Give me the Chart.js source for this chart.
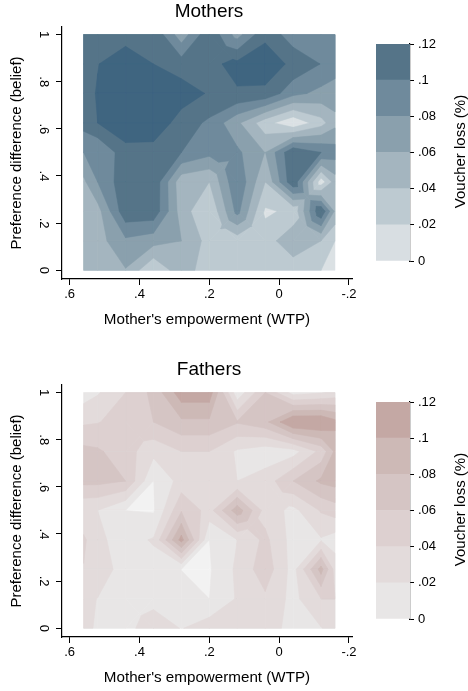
<!DOCTYPE html>
<html>
<head>
<meta charset="utf-8">
<title>Voucher loss contours</title>
<script src="https://cdn.jsdelivr.net/npm/chart.js@4"></script>
<style>
  html, body { margin: 0; padding: 0; background: #fff; }
  body { position: relative; width: 468px; height: 691px; overflow: hidden; }
  canvas { position: absolute; }
</style>
</head>
<body>
<canvas id="mothersPlot" width="372" height="329" style="left:0;top:0"></canvas>
<canvas id="mothersBar" width="128" height="245" style="left:340px;top:30px"></canvas>
<canvas id="fathersPlot" width="372" height="329" style="left:0;top:358px"></canvas>
<canvas id="fathersBar" width="128" height="245" style="left:340px;top:388px"></canvas>
<script>
// grid of the contour surface
const xGrid = [.56, .52, .44, .36, .28, .2, .12, .04, -.04, -.12, -.16];
const yGrid = [1, .875, .75, .625, .5, .375, .25, .125, 0];

// voucher loss, one row per yGrid value, one column per xGrid value
const mothersLoss = [
  [.104, .106, .108, .117, .068, .116, .072, .116, .088, .09, .088],
  [.11, .119, .138, .12, .11, .115, .126, .13, .116, .0994, .09],
  [.11, .122, .14, .138, .13, .118, .118, .116, .086, .074, .07],
  [.108, .12, .136, .134, .111, .096, .064, .028, .003, .032, .054],
  [.08, .08, .112, .112, .1, .086, .084, .0595, .118, .1, .09],
  [.056, .08, .114, .116, .046, .04, .098, .04, .116, .008, .05],
  [.046, .052, .114, .114, .05, .0205, .0866, .017, .024, .118, .056],
  [.05, .052, .076, .068, .06, .032, .0286, .029, .0566, .04, .02],
  [.046, .048, .0588, .02, .054, .025, .028, .028, .0264, .02, .004]
];
const fathersLoss = [
  [.01, .018, .04, .066, .112, .112, .006, .06, .012, .018, .026],
  [.037, .039, .048, .06, .076, .076, .062, .074, .123, .122, .1068],
  [.066, .063, .049, .026, .04, .04, .017, .008, .012, .046, .084],
  [.066, .066, .06, -.0002, .028, .03, .02, .029, .06, .084, .088],
  [.022, .02, 0, -.002, .058, .032, .092, .032, .014, .042, .05],
  [.044, .024, .012, .022, .108, 0, .02, .045, .012, .018, .01],
  [.039, .03, .012, .012, -.0004, -.002, .024, .052, .012, .088, .032],
  [.024, .0196, .014, .012, .01, 0, .022, .036, .014, .04, .04],
  [.022, .019, .012, .034, .019, .032, .034, .034, .01, .019, .03]
];

// contour levels and the colour painted from each level upward
const mothersLevels = [0, .02, .04, .06, .08, .1, .12];
const mothersColors = ['#dbe1e4', '#bdcad1', '#a4b5bf', '#8aa0ad', '#6f8a9c', '#557488', '#3f6580'];
const fathersLevels = [-.02, 0, .02, .04, .06, .08, .1];
const fathersColors = ['#f2f2f2', '#e8e6e6', '#e3dbdb', '#ddd0d0', '#d5c5c4', '#cdb9b6', '#c4a8a4'];

// colour bar, bottom to top
const barEdges = [0, .02, .04, .06, .08, .1, .12];
const mothersBarColors = ['#d8dee2', '#bdcad1', '#a4b5bf', '#8aa0ad', '#6f8a9c', '#557488'];
const fathersBarColors = ['#e8e6e6', '#e3dbdb', '#ddd0d0', '#d5c5c4', '#cdb9b6', '#c4a8a4'];

const xTicks = [.6, .4, .2, 0, -.2];
const yTicks = [0, .2, .4, .6, .8, 1];
const barTicks = [0, .02, .04, .06, .08, .1, .12];

const FONT = '"Liberation Sans", Arial, sans-serif';

// Stata style labels: .6, -.2, 0, 1
function shortNum(v) {
  const s = String(Math.round(v * 100) / 100);
  return s.replace(/^(-?)0\./, '$1.');
}

// cut a polygon of [x, y, value] corners down to the part at or above a level
function clipAbove(poly, level) {
  const out = [];
  for (let i = 0; i < poly.length; i++) {
    const a = poly[i];
    const b = poly[(i + 1) % poly.length];
    const aIn = a[2] >= level;
    const bIn = b[2] >= level;
    if (aIn) out.push(a);
    if (aIn !== bIn) {
      const t = (level - a[2]) / (b[2] - a[2]);
      out.push([a[0] + t * (b[0] - a[0]), a[1] + t * (b[1] - a[1]), level]);
    }
  }
  return out;
}

// a saddle cell has to go through its centre, other cells stay whole
function cellPieces(cell) {
  const [a, b, c, d] = cell;
  const saddle = (Math.min(a[2], c[2]) > Math.max(b[2], d[2])) || (Math.min(b[2], d[2]) > Math.max(a[2], c[2]));
  if (!saddle) return [cell];
  const mid = [(a[0] + c[0]) / 2, (a[1] + c[1]) / 2, (a[2] + b[2] + c[2] + d[2]) / 4];
  return [[a, b, mid], [b, c, mid], [c, d, mid], [d, a, mid]];
}

// filled contours, painted level by level through the chart's scales
const contourPlugin = {
  id: 'contour',
  beforeDatasetsDraw(chart, args, opts) {
    const { ctx, scales: { x, y } } = chart;
    ctx.save();
    ctx.lineWidth = 0.5;
    ctx.lineJoin = 'round';
    opts.levels.forEach((level, i) => {
      ctx.fillStyle = opts.colors[i];
      ctx.strokeStyle = opts.colors[i];
      for (let r = 0; r < yGrid.length - 1; r++) {
        for (let c = 0; c < xGrid.length - 1; c++) {
          const cell = [
            [xGrid[c], yGrid[r], opts.values[r][c]],
            [xGrid[c + 1], yGrid[r], opts.values[r][c + 1]],
            [xGrid[c + 1], yGrid[r + 1], opts.values[r + 1][c + 1]],
            [xGrid[c], yGrid[r + 1], opts.values[r + 1][c]]
          ];
          cellPieces(cell).forEach(piece => {
            const poly = i === 0 ? piece : clipAbove(piece, level);
            if (poly.length < 3) return;
            ctx.beginPath();
            poly.forEach((p, k) => {
              const px = x.getPixelForValue(p[0]);
              const py = y.getPixelForValue(p[1]);
              if (k === 0) ctx.moveTo(px, py); else ctx.lineTo(px, py);
            });
            ctx.closePath();
            ctx.fill();
            ctx.stroke();
          });
        }
      }
    });
    ctx.restore();
  }
};

// panel title sits a little right of the plot's centre, so Chart.js' title box won't do
const panelTitlePlugin = {
  id: 'panelTitle',
  afterDraw(chart, args, opts) {
    const { ctx, chartArea } = chart;
    ctx.save();
    ctx.font = '19px ' + FONT;
    ctx.fillStyle = '#000';
    ctx.textAlign = 'center';
    ctx.textBaseline = 'middle';
    ctx.fillText(opts.text, (chartArea.left + chartArea.right) / 2 + 2, 12);
    ctx.restore();
  }
};

// colour bar title reads bottom to top although its axis sits on the right
const barTitlePlugin = {
  id: 'barTitle',
  afterDraw(chart, args, opts) {
    const { ctx, chartArea } = chart;
    ctx.save();
    ctx.translate(opts.x, (chartArea.top + chartArea.bottom) / 2 - 1);
    ctx.rotate(-Math.PI / 2);
    ctx.font = '15px ' + FONT;
    ctx.fillStyle = '#000';
    ctx.textAlign = 'center';
    ctx.textBaseline = 'middle';
    ctx.fillText(opts.text, 0, 0);
    ctx.restore();
  }
};

function axisStyle(tickLength) {
  return {
    grid: { drawOnChartArea: false, color: '#000', tickColor: '#000', tickLength: tickLength, tickWidth: 1 },
    border: { color: '#000', width: 1.2 }
  };
}

function makePlot(id, title, values, levels, colors) {
  const points = [];
  values.forEach((row, r) => row.forEach((v, c) => points.push({ x: xGrid[c], y: yGrid[r], v: v })));
  return new Chart(document.getElementById(id), {
    type: 'scatter',
    data: { datasets: [{ data: points, pointRadius: 0, pointHoverRadius: 0 }] },
    plugins: [contourPlugin, panelTitlePlugin],
    options: {
      responsive: false,
      animation: false,
      events: [],
      layout: { padding: { left: 8, right: 20, top: 27, bottom: 0 } },
      plugins: {
        legend: { display: false },
        tooltip: { enabled: false },
        panelTitle: { text: title },
        contour: { values: values, levels: levels, colors: colors }
      },
      scales: {
        x: {
          type: 'linear',
          reverse: true,
          min: -.2086,
          max: .622,
          ...axisStyle(6),
          afterBuildTicks: s => { s.ticks = xTicks.map(v => ({ value: v })); },
          afterFit: s => { s.height = 50; },
          ticks: { autoSkip: false, maxRotation: 0, padding: 2, color: '#000', font: { family: FONT, size: 13 }, callback: shortNum },
          title: { display: true, text: "Mother's empowerment (WTP)", color: '#000', font: { family: FONT, size: 15.2 }, padding: 0 }
        },
        y: {
          type: 'linear',
          min: -.0369,
          max: 1.032,
          ...axisStyle(6),
          afterBuildTicks: s => { s.ticks = yTicks.map(v => ({ value: v })); },
          afterFit: s => { s.width = 54; },
          ticks: { autoSkip: false, minRotation: -90, crossAlign: 'center', padding: 7, color: '#000', font: { family: FONT, size: 13 }, callback: shortNum },
          title: { display: true, text: 'Preference difference (belief)', color: '#000', font: { family: FONT, size: 15 }, padding: 0 }
        }
      }
    }
  });
}

function makeBar(id, colors) {
  return new Chart(document.getElementById(id), {
    type: 'bar',
    data: {
      labels: ['loss'],
      datasets: colors.map((color, i) => ({
        data: [[barEdges[i], barEdges[i + 1]]],
        backgroundColor: color,
        borderWidth: 0,
        grouped: false,
        barPercentage: 1,
        categoryPercentage: 1
      }))
    },
    plugins: [barTitlePlugin],
    options: {
      responsive: false,
      animation: false,
      events: [],
      layout: { padding: { left: 36, right: 0, top: 14, bottom: 14 } },
      plugins: {
        legend: { display: false },
        tooltip: { enabled: false },
        barTitle: { text: 'Voucher loss (%)', x: 121 }
      },
      scales: {
        x: { display: false },
        y: {
          position: 'right',
          min: 0,
          max: .12,
          ...axisStyle(4),
          afterBuildTicks: s => { s.ticks = barTicks.map(v => ({ value: v })); },
          afterFit: s => { s.width = 58; },
          ticks: { autoSkip: false, padding: 4, color: '#000', font: { family: FONT, size: 13 }, callback: shortNum }
        }
      }
    }
  });
}

makePlot('mothersPlot', 'Mothers', mothersLoss, mothersLevels, mothersColors);
makeBar('mothersBar', mothersBarColors);
makePlot('fathersPlot', 'Fathers', fathersLoss, fathersLevels, fathersColors);
makeBar('fathersBar', fathersBarColors);
</script>
</body>
</html>
